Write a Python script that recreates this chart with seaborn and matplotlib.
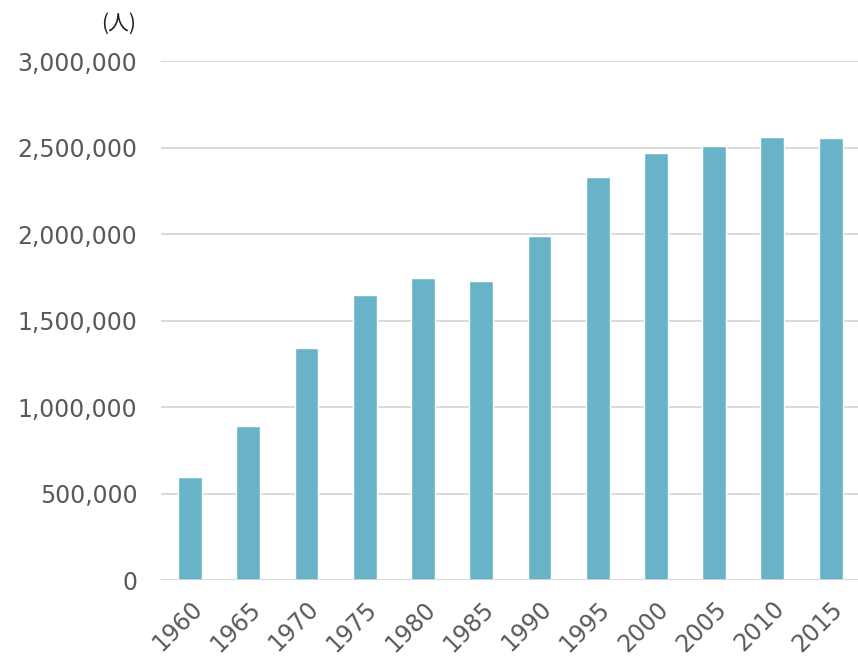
import matplotlib
matplotlib.use("Agg")
import matplotlib.pyplot as plt
import seaborn as sns
import pandas as pd
from matplotlib.ticker import FuncFormatter

years = ["1960", "1965", "1970", "1975", "1980", "1985",
         "1990", "1995", "2000", "2005", "2010", "2015"]
population = [596000, 892000, 1343000, 1650000, 1743000, 1731000,
              1986000, 2328000, 2471000, 2507000, 2558000, 2554000]
unit_label = "(人)"

sns.set_style("white")
plt.rcParams['font.family'] = ['DejaVu Sans', 'Noto Sans CJK JP']

df = pd.DataFrame({'year': years, 'population': population})

fig = plt.figure(figsize=(8.58, 6.64), dpi=100)
ax = fig.add_axes([0.1876, 0.1265, 0.8124, 0.7816])

sns.barplot(data=df, x='year', y='population', color='#69b3c8',
            saturation=1, width=0.41, ax=ax, zorder=3)

ax.set_ylim(0, 3000000)
ax.set_xlim(-0.5, 11.47)
ax.set_yticks(range(0, 3000001, 500000))
ax.yaxis.set_major_formatter(FuncFormatter(lambda v, p: f"{int(v):,}"))
ax.grid(axis='y', color='#d9d9d9', linewidth=1.4, zorder=0)
ax.set_axisbelow(True)
for s in ax.spines.values():
    s.set_visible(False)
ax.axhline(0, color='#d9d9d9', linewidth=1.8, zorder=4)

ax.set_xlabel("")
ax.set_ylabel("")
ax.tick_params(axis='y', length=0, pad=17, labelsize=17, labelcolor='#595959')
ax.tick_params(axis='x', length=0, pad=12, labelsize=17, labelcolor='#595959')
plt.setp(ax.get_xticklabels(), rotation=45, ha='right', rotation_mode='anchor')

fig.text(136 / 858, 1 - 24 / 664, unit_label, ha='right', va='center',
         fontsize=15, color='#222222',
         family=['Noto Sans CJK JP', 'DejaVu Sans'])

fig.savefig("out.png", dpi=100)
